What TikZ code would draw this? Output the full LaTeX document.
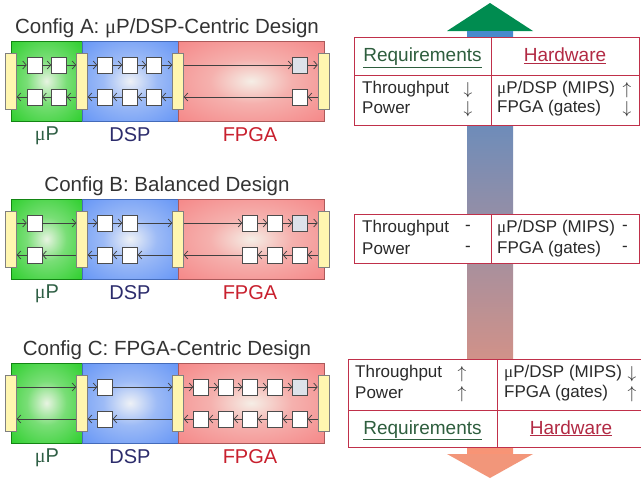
\documentclass[tikz,border=0pt]{standalone}
\usepackage{fontspec}
\setmainfont{Liberation Sans}
\newfontfamily\greekfont{Liberation Serif}
\usetikzlibrary{arrows.meta,positioning}

\definecolor{ttlgray}{HTML}{333333}
\definecolor{txtgray}{HTML}{2A2A2A}
\definecolor{mpin}{HTML}{E8F4E2}
\definecolor{mpout}{HTML}{1ECC1E}
\definecolor{dspin}{HTML}{EEF1F6}
\definecolor{dspout}{HTML}{5A8EF6}
\definecolor{fpgain}{HTML}{F5EEE6}
\definecolor{fpgaout}{HTML}{F57F80}
\definecolor{barfill}{HTML}{FFF6B0}
\definecolor{cellgray}{HTML}{DDE2EA}
\definecolor{flowgray}{HTML}{404040}
\definecolor{mplabel}{HTML}{2F5F45}
\definecolor{dsplabel}{HTML}{2C2C6C}
\definecolor{fpgalabel}{HTML}{C8202E}
\definecolor{tabred}{HTML}{C0304A}
\definecolor{reqgreen}{HTML}{2E5E3E}
\definecolor{hwred}{HTML}{B22A44}
\definecolor{headgreen}{HTML}{008C50}
\definecolor{headsalmon}{HTML}{F2967A}

\pgfdeclareradialshading{glowmp}{\pgfpointorigin}{color(0bp)=(mpin); color(14bp)=(mpin!45!mpout); color(40bp)=(mpout); color(50bp)=(mpout)}
\pgfdeclareradialshading{glowdsp}{\pgfpointorigin}{color(0bp)=(dspin); color(14bp)=(dspin!45!dspout); color(40bp)=(dspout); color(50bp)=(dspout)}
\pgfdeclareradialshading{glowfpga}{\pgfpointorigin}{color(0bp)=(fpgain); color(14bp)=(fpgain!45!fpgaout); color(40bp)=(fpgaout); color(50bp)=(fpgaout)}

\tikzset{
  bar/.style={draw=gray, fill=barfill, line width=0.6pt, minimum width=11pt, minimum height=56pt, inner sep=0pt},
  cell/.style={draw=gray!60!black, fill=white, line width=0.6pt, minimum width=15pt, minimum height=16pt, inner sep=0pt},
  lastcell/.style={cell, fill=cellgray},
  flow/.style={draw=flowgray, line width=0.7pt, -{Straight Barb[length=3.5pt,width=8pt]}},
  tabcell/.style={draw=tabred, fill=white, line width=0.8pt, inner sep=0pt, outer sep=0pt},
  txt/.style={anchor=west, inner sep=0pt, text=txtgray},
  sym/.style={inner sep=0pt, text=txtgray},
  head/.style={font=\fontsize{19}{22}\selectfont, text height=15pt, text depth=4pt}
}

\begin{document}
\begin{tikzpicture}[x=1pt, y=-1pt, font=\fontsize{17}{20}\selectfont]
  \useasboundingbox (0,0) rectangle (641,479);

  % the three configurations
  \foreach \c/\y/\t in {A/41/{Config A: {\greekfont μ}P/DSP-Centric Design},
                        B/199/{Config B: Balanced Design},
                        C/363/{Config C: FPGA-Centric Design}}{
    \begin{scope}[shift={(0,\y)}]
      \shade[shading=glowmp] (11,0) rectangle (82,80);
      \shade[shading=glowdsp] (82,0) rectangle (178,80);
      \shade[shading=glowfpga] (178,0) rectangle (324,80);
      \draw[mpout!65!black, line width=0.6pt] (11,0) rectangle (82,80);
      \draw[dspout!75!black, line width=0.6pt] (82,0) rectangle (178,80);
      \draw[fpgaout!70!black, line width=0.6pt] (178,0) rectangle (324,80);
      \coordinate (\c-ru) at (0,24);
      \coordinate (\c-rl) at (0,56);
      \node[bar] (\c-b0) at (11,40) {};
      \node[bar] (\c-b1) at (82,40) {};
      \node[bar] (\c-b2) at (178,40) {};
      \node[bar] (\c-b3) at (323.5,40) {};
      \node[text=ttlgray, font=\fontsize{20.5}{24}\selectfont] (\c-title) at (167,-13) {\t};
      \node[text=mplabel, font=\fontsize{20}{24}\selectfont] (\c-mp) at (47,95) {{\greekfont μ}P};
      \node[text=dsplabel, font=\fontsize{20}{24}\selectfont] (\c-dsp) at (130,94) {DSP};
      \node[text=fpgalabel, font=\fontsize{20}{24}\selectfont] (\c-fpga) at (250,94) {FPGA};
    \end{scope}
  }

  % Config A
  \foreach \i/\x/\s in {1/34.5/cell, 2/59/cell, 3/105/cell, 4/130/cell, 5/154/cell, 6/300/lastcell}{
    \node[\s] (A-u\i) at (\x,65) {};
    \node[cell] (A-l\i) at (\x,97) {};
  }
  \foreach \n [remember=\n as \p (initially A-b0)] in {A-u1,A-u2,A-b1,A-u3,A-u4,A-u5,A-b2,A-u6,A-b3}
    \draw[flow] (\p.east |- A-ru) -- (\n.west |- A-ru);
  \foreach \n [remember=\n as \p (initially A-b3)] in {A-l6,A-b2,A-l5,A-l4,A-l3,A-b1,A-l2,A-l1,A-b0}
    \draw[flow] (\p.west |- A-rl) -- (\n.east |- A-rl);

  % Config B
  \foreach \i/\x/\s in {1/34.5/cell, 2/105/cell, 3/130/cell, 4/250/cell, 5/275/cell, 6/300/lastcell}{
    \node[\s] (B-u\i) at (\x,223) {};
    \node[cell] (B-l\i) at (\x,255) {};
  }
  \foreach \n [remember=\n as \p (initially B-b0)] in {B-u1,B-b1,B-u2,B-u3,B-b2,B-u4,B-u5,B-u6,B-b3}
    \draw[flow] (\p.east |- B-ru) -- (\n.west |- B-ru);
  \foreach \n [remember=\n as \p (initially B-b3)] in {B-l6,B-l5,B-l4,B-b2,B-l3,B-l2,B-b1,B-l1,B-b0}
    \draw[flow] (\p.west |- B-rl) -- (\n.east |- B-rl);

  % Config C
  \foreach \i/\x/\s in {1/105/cell, 2/201/cell, 3/226/cell, 4/250/cell, 5/275/cell, 6/300/lastcell}{
    \node[\s] (C-u\i) at (\x,387) {};
    \node[cell] (C-l\i) at (\x,419) {};
  }
  \foreach \n [remember=\n as \p (initially C-b0)] in {C-b1,C-u1,C-b2,C-u2,C-u3,C-u4,C-u5,C-u6,C-b3}
    \draw[flow] (\p.east |- C-ru) -- (\n.west |- C-ru);
  \foreach \n [remember=\n as \p (initially C-b3)] in {C-l6,C-l5,C-l4,C-l3,C-l2,C-b2,C-l1,C-b1,C-b0}
    \draw[flow] (\p.west |- C-rl) -- (\n.east |- C-rl);

  % big arrow behind the tables
  \fill[headgreen] (490,3) -- (533,31) -- (447,31) -- cycle;
  \shade[top color={rgb,255:red,70;green,138;blue,205}, middle color={rgb,255:red,160;green,141;blue,176},
         bottom color={rgb,255:red,249;green,148;blue,117}] (467,31) rectangle (513,454);
  \fill[headsalmon] (447,454) -- (533,454) -- (490,478) -- cycle;

  % table 1
  \node[tabcell, minimum width=137pt, minimum height=38pt, head] (t1-req) at (422.5,56) {\color{reqgreen}\underline{Requirements}};
  \node[tabcell, minimum width=148pt, minimum height=38pt, head, right=0pt of t1-req] (t1-hw) {\color{hwred}\underline{Hardware}};
  \node[tabcell, minimum width=137pt, minimum height=50pt, below=0pt of t1-req] (t1-rb) {};
  \node[tabcell, minimum width=148pt, minimum height=50pt, below=0pt of t1-hw] (t1-hb) {};
  \node[txt] (t1-thr) at (362,89) {Throughput};
  \node[txt] (t1-pow) at (362,108) {Power};
  \node[sym] (t1-thra) at (468,90) {$\downarrow$};
  \node[sym] (t1-powa) at (468,109) {$\downarrow$};
  \node[txt] (t1-mips) at (497,89) {{\greekfont μ}P/DSP (MIPS)};
  \node[txt] (t1-gate) at (497,108) {FPGA (gates)};
  \node[sym] (t1-mipsa) at (627,90) {$\uparrow$};
  \node[sym] (t1-gatea) at (627,109) {$\downarrow$};

  % table 2
  \node[tabcell, minimum width=137pt, minimum height=49pt] (t2-rb) at (422.5,238.5) {};
  \node[tabcell, minimum width=148pt, minimum height=49pt, right=0pt of t2-rb] (t2-hb) {};
  \node[txt] (t2-thr) at (362,228) {Throughput};
  \node[txt] (t2-pow) at (362,249) {Power};
  \node[sym] (t2-thra) at (468,228) {-};
  \node[sym] (t2-powa) at (468,249) {-};
  \node[txt] (t2-mips) at (497,228) {{\greekfont μ}P/DSP (MIPS)};
  \node[txt] (t2-gate) at (497,249) {FPGA (gates)};
  \node[sym] (t2-mipsa) at (625,228) {-};
  \node[sym] (t2-gatea) at (625,249) {-};

  % table 3
  \node[tabcell, minimum width=149pt, minimum height=51pt] (t3-rb) at (422.5,384.5) {};
  \node[tabcell, minimum width=148pt, minimum height=51pt, right=0pt of t3-rb] (t3-hb) {};
  \node[tabcell, minimum width=149pt, minimum height=37pt, head, below=0pt of t3-rb] (t3-req) {\color{reqgreen}\underline{Requirements}};
  \node[tabcell, minimum width=148pt, minimum height=37pt, head, below=0pt of t3-hb] (t3-hw) {\color{hwred}\underline{Hardware}};
  \node[txt] (t3-thr) at (355,373) {Throughput};
  \node[txt] (t3-pow) at (355,393) {Power};
  \node[sym] (t3-thra) at (462,374) {$\uparrow$};
  \node[sym] (t3-powa) at (462,394) {$\uparrow$};
  \node[txt] (t3-mips) at (504,373) {{\greekfont μ}P/DSP (MIPS)};
  \node[txt] (t3-gate) at (504,393) {FPGA (gates)};
  \node[sym] (t3-mipsa) at (632,374) {$\downarrow$};
  \node[sym] (t3-gatea) at (632,394) {$\uparrow$};
\end{tikzpicture}
\end{document}
